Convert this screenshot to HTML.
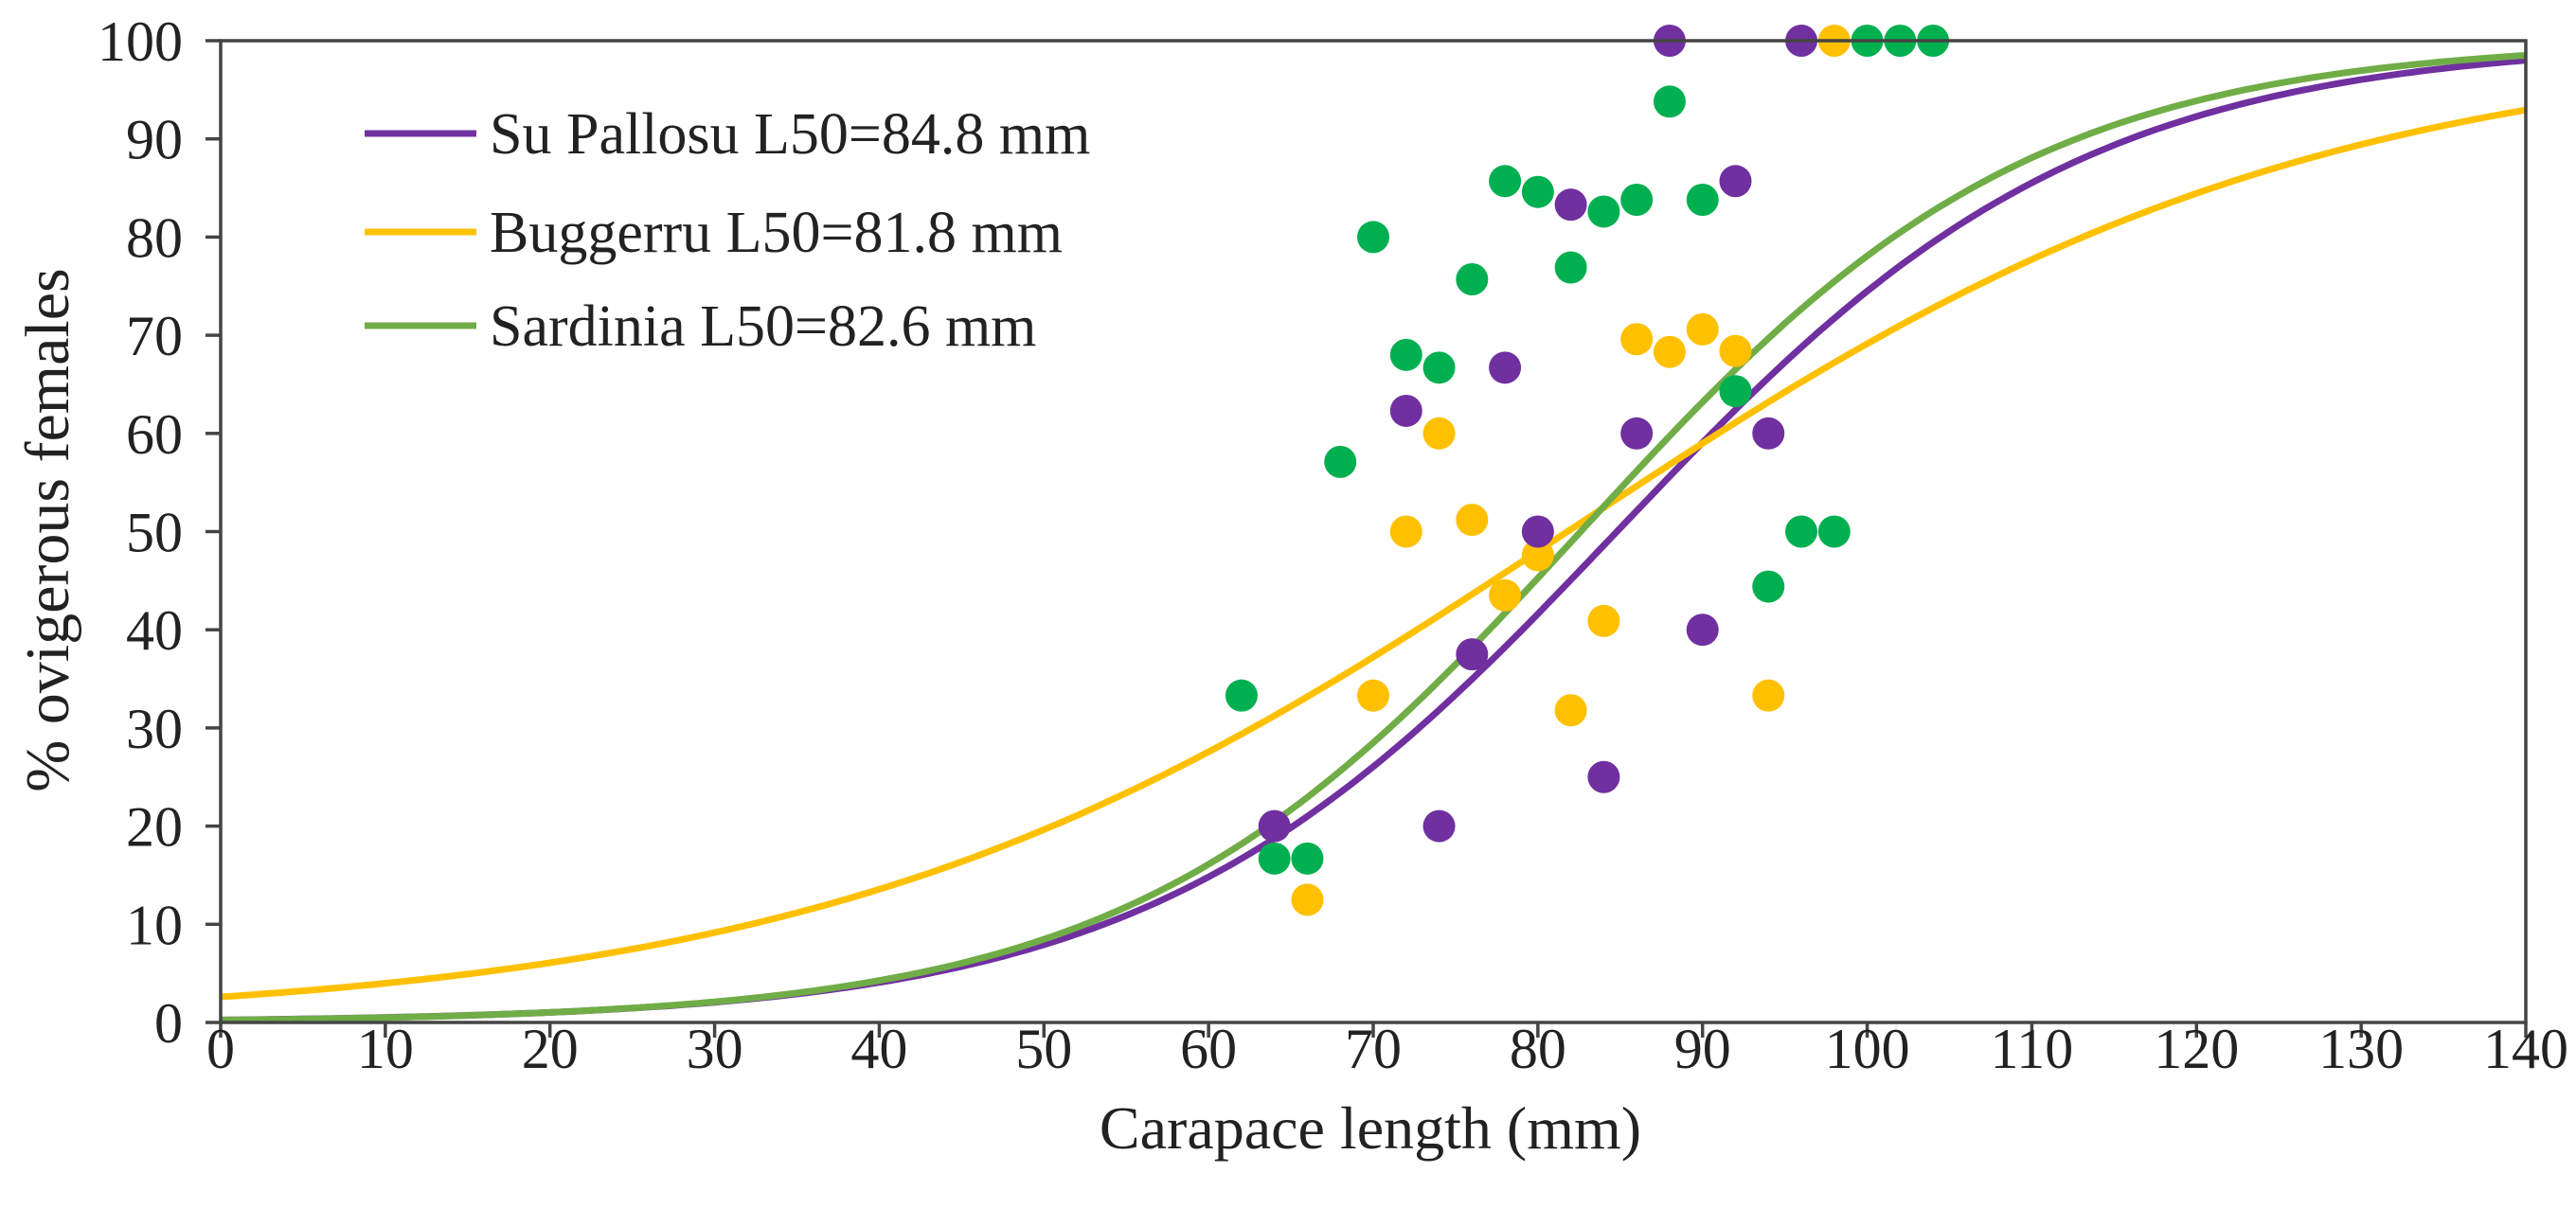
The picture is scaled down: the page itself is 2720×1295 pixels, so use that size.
<!DOCTYPE html>
<html><head><meta charset="utf-8"><style>
html,body{margin:0;padding:0;background:#fff;}
svg{display:block;font-family:"Liberation Serif",serif;}
</style></head><body>
<svg id="chart" width="2720" height="1295" viewBox="0 0 2720 1295" xmlns="http://www.w3.org/2000/svg">
<g id="grid"></g><g id="curves"></g><g id="points"></g><g id="axes"></g><g id="legend"></g>
</svg>
<script>
const xTicks=[0,10,20,30,40,50,60,70,80,90,100,110,120,130,140];
const yTicks=[0,10,20,30,40,50,60,70,80,90,100];
const seriesNames=["Su Pallosu L50=84.8 mm","Buggerru L50=81.8 mm","Sardinia L50=82.6 mm"];
const l50Values=[84.8,81.8,82.6];
const slopeValues=[0.0705,0.0443,0.073];
const purpleX=[64,72,74,76,78,80,82,84,86,88,90,92,94,96];
const purpleY=[20,62.3,20,37.5,66.7,50,83.3,25,60,100,40,85.7,60,100];
const yellowX=[66,70,72,74,76,78,80,82,84,86,88,90,92,94,98];
const yellowY=[12.5,33.3,50,60,51.2,43.5,47.6,31.8,40.9,69.6,68.3,70.6,68.4,33.3,100];
const greenX=[62,64,66,68,70,72,74,76,78,80,82,84,86,88,90,92,94,96,98,100,102,104];
const greenY=[33.3,16.7,16.7,57.1,80,68,66.7,75.7,85.7,84.6,76.9,82.6,83.8,93.8,83.8,64.3,44.4,50,50,100,100,100];

const NS="http://www.w3.org/2000/svg";
const L=233,R=2667,T=43,B=1080;
const sx=v=>L+(v/140)*(R-L);
const sy=v=>B-(v/100)*(B-T);
function mk(tag,attrs,parent){const e=document.createElementNS(NS,tag);for(const k in attrs)e.setAttribute(k,attrs[k]);document.getElementById(parent).appendChild(e);return e;}

const lineColors=["#7030A0","#FFC000","#70AD47"];
const dotColors=["#7030A0","#FFC000","#00B050"];
const curveNames=["curve-su-pallosu","curve-buggerru","curve-sardinia"];
for(let s=0;s<3;s++){
  let d="";
  for(let i=0;i<=280;i++){const x=i*0.5;const p=100/(1+Math.exp(-slopeValues[s]*(x-l50Values[s])));d+=(i?"L":"M")+sx(x).toFixed(1)+","+sy(p).toFixed(1);}
  const e=mk("path",{d:d,fill:"none",stroke:lineColors[s],"stroke-width":7},"curves");
  
  
}
const sets=[[purpleX,purpleY,"su-pallosu"],[yellowX,yellowY,"buggerru"],[greenX,greenY,"sardinia"]];
const order=[1,0,2];
for(const s of order){
  const [xs,ys,nm]=sets[s];
  for(let i=0;i<xs.length;i++){
    const c=mk("circle",{cx:sx(xs[i]),cy:sy(ys[i]),r:17,fill:dotColors[s]},"points");
    
    
  }
}
const fr=mk("rect",{x:L,y:T,width:R-L,height:B-T,fill:"none",stroke:"#444","stroke-width":3.5},"axes");


for(const v of yTicks){
  const t=mk("line",{x1:L-16,x2:L,y1:sy(v),y2:sy(v),stroke:"#444","stroke-width":3.5},"axes");
  
  
  const tx=mk("text",{x:193,y:sy(v)+21,"text-anchor":"end","font-size":60,fill:"#222"},"axes");
  tx.textContent=v;
  
  
}
for(const v of xTicks){
  const t=mk("line",{x1:sx(v),x2:sx(v),y1:B,y2:B+16,stroke:"#444","stroke-width":3.5},"axes");
  
  
  const tx=mk("text",{x:sx(v),y:1128,"text-anchor":"middle","font-size":60,fill:"#222"},"axes");
  tx.textContent=v;
  
  
}
const xt=mk("text",{x:1447,y:1213,"text-anchor":"middle","font-size":64,fill:"#222"},"axes");
xt.textContent="Carapace length (mm)";


const yt=mk("text",{x:0,y:0,"text-anchor":"middle","font-size":66,fill:"#222",transform:"translate(72,560) rotate(-90)"},"axes");
yt.textContent="% ovigerous females";


const legY=[141,245,344];
for(let s=0;s<3;s++){
  const ln=mk("line",{x1:385,x2:503,y1:legY[s],y2:legY[s],stroke:lineColors[s],"stroke-width":7},"legend");
  
  
  const tx=mk("text",{x:517,y:legY[s]+21,"font-size":62,fill:"#222"},"legend");
  tx.textContent=seriesNames[s];
  
  
}
</script>
</body></html>
